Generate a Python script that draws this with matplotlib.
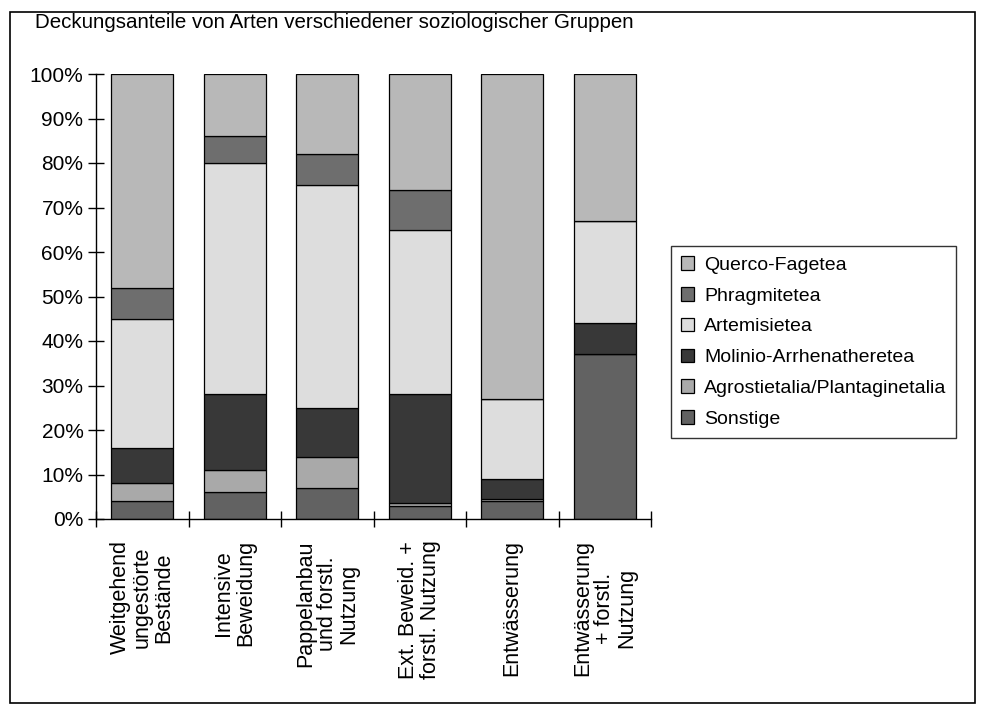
import numpy as np
import matplotlib.pyplot as plt
from matplotlib.patches import Rectangle

plt.rcParams['font.family'] = ['Liberation Sans', 'DejaVu Sans']

# Kategorien (Nutzungstypen)
categories = ['Weitgehend\nungestörte\nBestände',
              'Intensive\nBeweidung',
              'Pappelanbau\nund forstl.\nNutzung',
              'Ext. Beweid. +\nforstl. Nutzung',
              'Entwässerung',
              'Entwässerung\n+ forstl.\nNutzung']

# Anteile in % (von unten nach oben gestapelt)
sonstige = [4, 6, 7, 3, 4, 37]
agrostietalia = [4, 5, 7, 0.5, 0.5, 0]
molinio = [8, 17, 11, 24.5, 4.5, 7]
artemisietea = [29, 52, 50, 37, 18, 23]
phragmitetea = [7, 6, 7, 9, 0, 0]
querco = [48, 14, 18, 26, 73, 33]

series = [('Sonstige', sonstige, '#626262'),
          ('Agrostietalia/Plantaginetalia', agrostietalia, '#a9a9a9'),
          ('Molinio-Arrhenatheretea', molinio, '#383838'),
          ('Artemisietea', artemisietea, '#dddddd'),
          ('Phragmitetea', phragmitetea, '#6e6e6e'),
          ('Querco-Fagetea', querco, '#b8b8b8')]

fig = plt.figure(figsize=(9.85, 7.18), dpi=100)
ax = fig.add_axes([96/985, 1-519/718, (651-96)/985, (519-74)/718])

x = np.arange(len(categories)) + 0.5
bottom = np.zeros(len(categories))
handles = []
for name, vals, col in series:
    vals = np.array(vals, dtype=float)
    b = ax.bar(x, vals, 0.67, bottom=bottom, color=col, edgecolor='black',
               linewidth=0.9, label=name)
    handles.append(b)
    bottom += vals

ax.set_xlim(0, len(categories))
ax.set_ylim(0, 100)
ax.set_yticks(np.arange(0, 101, 10))
ax.set_yticklabels([f'{v}%' for v in range(0, 101, 10)], fontsize=15)
ax.set_xticks(np.arange(0, len(categories) + 1))
ax.set_xticklabels([])
ax.tick_params(axis='both', direction='inout', length=12, width=1)
ax.tick_params(axis='y', pad=3)
ax.spines['top'].set_visible(False)
ax.spines['right'].set_visible(False)
ax.spines['left'].set_linewidth(1)
ax.spines['bottom'].set_linewidth(1)

for xi, lab in zip(x, categories):
    ax.text(xi, -4.8, lab, rotation=90, ha='center', va='top',
            multialignment='center', fontsize=15.5, linespacing=1.05)

leg = fig.legend(handles[::-1], [s[0] for s in series][::-1],
                 loc='center left', bbox_to_anchor=(671/985, 1-342/718),
                 fontsize=14, frameon=True, fancybox=False,
                 edgecolor='black', handlelength=0.7, handleheight=0.7,
                 handletextpad=0.5, labelspacing=0.68, borderpad=0.5,
                 borderaxespad=0)
leg.get_frame().set_linewidth(1)

fig.text(35/985, 1-22/718, 'Deckungsanteile von Arten verschiedener soziologischer Gruppen',
         fontsize=14.8, ha='left', va='center')

fig.patches.append(Rectangle((10/985, 1-703/718), 965/985, 691/718,
                             transform=fig.transFigure, fill=False,
                             edgecolor='black', linewidth=1.2))

fig.savefig('out.png', dpi=100)
